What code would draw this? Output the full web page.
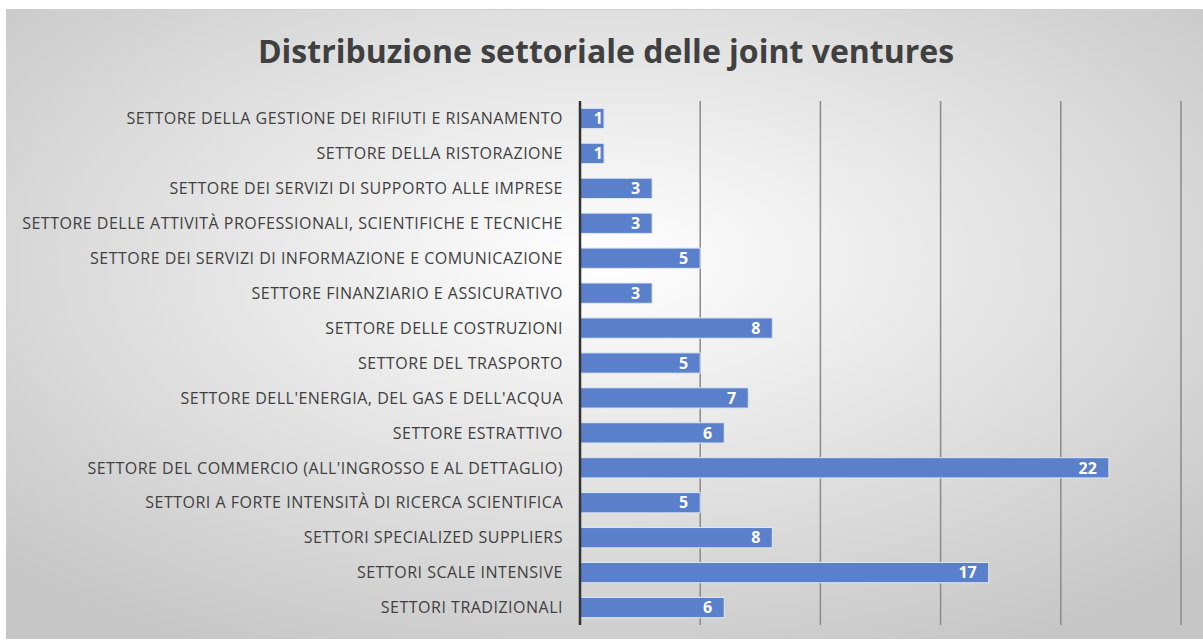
<!DOCTYPE html>
<html>
<head>
<meta charset="utf-8">
<script src="https://cdn.jsdelivr.net/npm/d3@7"></script>
<style>
  body { margin: 0; background: #fff; }
  svg { display: block; }
</style>
</head>
<body>
<div id="chart"></div>
<script>
//chart data, top to bottom as in the picture
var categories = [
  "SETTORE DELLA GESTIONE DEI RIFIUTI E RISANAMENTO",
  "SETTORE DELLA RISTORAZIONE",
  "SETTORE DEI SERVIZI DI SUPPORTO ALLE IMPRESE",
  "SETTORE DELLE ATTIVITÀ PROFESSIONALI, SCIENTIFICHE E TECNICHE",
  "SETTORE DEI SERVIZI DI INFORMAZIONE E COMUNICAZIONE",
  "SETTORE FINANZIARIO E ASSICURATIVO",
  "SETTORE DELLE COSTRUZIONI",
  "SETTORE DEL TRASPORTO",
  "SETTORE DELL'ENERGIA, DEL GAS E DELL'ACQUA",
  "SETTORE ESTRATTIVO",
  "SETTORE DEL COMMERCIO (ALL'INGROSSO E AL DETTAGLIO)",
  "SETTORI A FORTE INTENSITÀ DI RICERCA SCIENTIFICA",
  "SETTORI SPECIALIZED SUPPLIERS",
  "SETTORI SCALE INTENSIVE",
  "SETTORI TRADIZIONALI"
];
var values = [1, 1, 3, 3, 5, 3, 8, 5, 7, 6, 22, 5, 8, 17, 6];
var xTicks = [0, 5, 10, 15, 20, 25];
var title = "Distribuzione settoriale delle joint ventures";

var width = 1203,
  height = 644;

//plot area
var margin = { left: 580, right: 22, top: 101, bottom: 19 };

var svg = d3
  .select("#chart")
  .append("svg")
  .attr("width", width)
  .attr("height", height);

//grey radial background like the office chart style
var defs = svg.append("defs");
var grad = defs
  .append("radialGradient")
  .attr("id", "bg")
  .attr("cx", "50%")
  .attr("cy", "40%")
  .attr("r", "70%");
grad.append("stop").attr("offset", "0%").attr("stop-color", "#ffffff");
grad.append("stop").attr("offset", "100%").attr("stop-color", "#c6c6c6");

svg
  .append("rect")
  .attr("x", 6)
  .attr("y", 9)
  .attr("width", width - 6)
  .attr("height", 630)
  .attr("fill", "url(#bg)");
svg
  .append("line")
  .attr("x1", 6)
  .attr("x2", width)
  .attr("y1", 9.5)
  .attr("y2", 9.5)
  .attr("stroke", "#d0d0d0");

var x = d3
  .scaleLinear()
  .domain([0, 25])
  .range([margin.left, width - margin.right]);

var y = d3
  .scaleBand()
  .domain(categories)
  .range([margin.top, height - margin.bottom])
  .paddingInner(0.42)
  .paddingOuter(0.21);

//title
svg
  .append("text")
  .attr("x", 606)
  .attr("y", 63)
  .attr("text-anchor", "middle")
  .attr("font-family", "Open Sans, sans-serif")
  .attr("font-weight", "bold")
  .attr("font-size", 32)
  .attr("fill", "#404040")
  .text(title);

//vertical gridlines
svg
  .selectAll(".grid")
  .data(xTicks.slice(1))
  .enter()
  .append("line")
  .attr("class", "grid")
  .attr("x1", d => x(d))
  .attr("x2", d => x(d))
  .attr("y1", margin.top)
  .attr("y2", height - margin.bottom)
  .attr("stroke", "#8a8a8a")
  .attr("stroke-width", 1.5);

//bars
svg
  .selectAll(".bar")
  .data(values)
  .enter()
  .append("rect")
  .attr("class", "bar")
  .attr("x", x(0))
  .attr("y", (d, i) => y(categories[i]))
  .attr("width", d => x(d) - x(0))
  .attr("height", y.bandwidth())
  .attr("fill", "#5b80cb")
  .attr("stroke", "#dfe6f4")
  .attr("stroke-width", 1);

//value labels inside bars, short bars keep the label off the axis
svg
  .selectAll(".val")
  .data(values)
  .enter()
  .append("text")
  .attr("class", "val")
  .attr("x", d => Math.max(x(d) - 12, x(0) + 23))
  .attr("y", (d, i) => y(categories[i]) + y.bandwidth() / 2)
  .attr("dy", "0.36em")
  .attr("text-anchor", "end")
  .attr("font-family", "Open Sans, sans-serif")
  .attr("font-weight", "bold")
  .attr("font-size", 16)
  .attr("fill", "#ffffff")
  .text(d => d);

//category labels
svg
  .selectAll(".cat")
  .data(categories)
  .enter()
  .append("text")
  .attr("class", "cat")
  .attr("x", 563)
  .attr("y", d => y(d) + y.bandwidth() / 2)
  .attr("dy", "0.36em")
  .attr("text-anchor", "end")
  .attr("font-family", "Open Sans, sans-serif")
  .attr("font-size", 16)
  .attr("letter-spacing", 0.5)
  .attr("fill", "#404040")
  .text(d => d);

//vertical axis line at zero
svg
  .append("line")
  .attr("x1", x(0))
  .attr("x2", x(0))
  .attr("y1", margin.top)
  .attr("y2", height - margin.bottom)
  .attr("stroke", "#333")
  .attr("stroke-width", 2.5);
</script>
</body>
</html>
